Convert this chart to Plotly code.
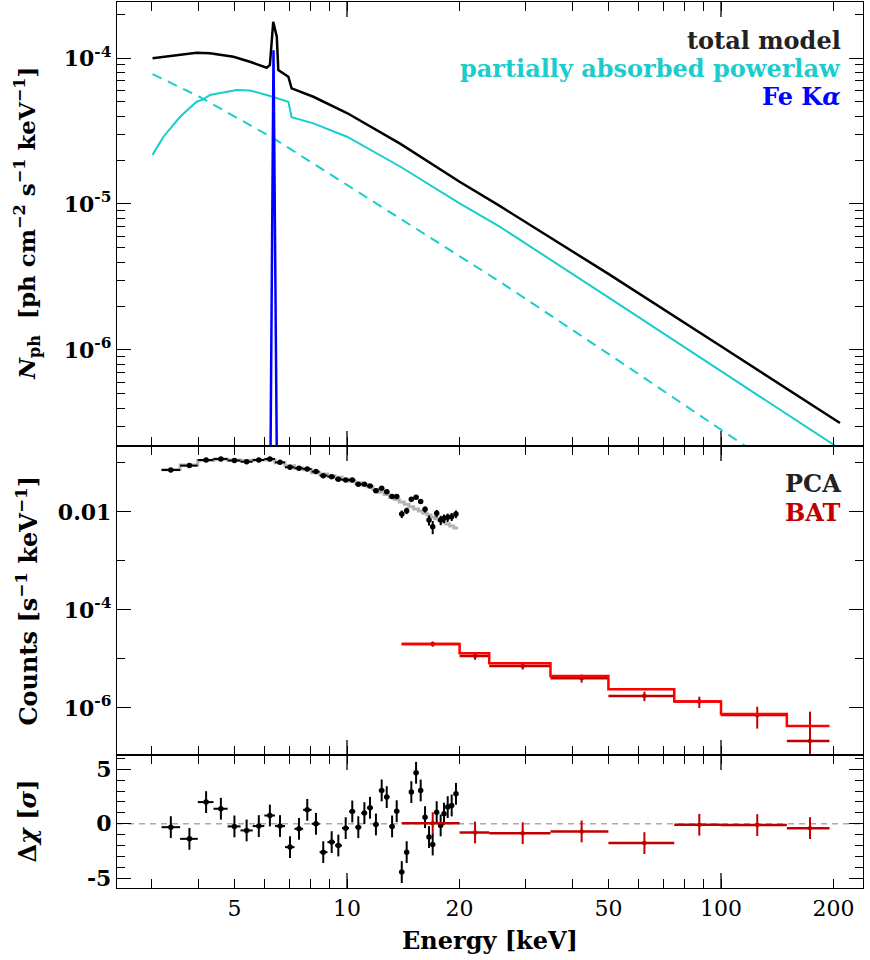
import numpy as np
import plotly.graph_objects as go

# ---------------- photon spectrum model components ----------------
tot_e = [3.02, 3.23, 3.96, 4.30, 4.97, 5.50, 6.10, 6.22, 6.35, 6.49, 6.55, 6.97, 7.11,
         8.13, 10.0, 13.9, 20.0, 25.6, 50.0, 100.0, 208.0]
tot_f = [9.95e-5, 1.02e-4, 1.087e-4, 1.077e-4, 1.02e-4, 9.43e-5, 8.58e-5, 8.96e-5, 1.77e-4,
         1.40e-4, 8.27e-5, 7.45e-5, 6.20e-5, 5.43e-5, 4.20e-5, 2.58e-5, 1.42e-5, 9.7e-6,
         3.32e-6, 1.06e-6, 3.16e-7]

pabs_e = [3.02, 3.16, 3.23, 3.58, 3.96, 4.13, 4.30, 5.07, 5.50, 6.10, 6.97, 7.11, 8.13,
          10.0, 13.9, 20.0, 25.6, 50.0, 100.0, 208.0]
pabs_f = [2.17e-5, 2.67e-5, 2.89e-5, 3.96e-5, 5.02e-5, 5.21e-5, 5.58e-5, 6.04e-5, 6.0e-5,
          5.58e-5, 5.02e-5, 3.93e-5, 3.57e-5, 2.89e-5, 1.80e-5, 1.01e-5, 7.0e-6, 2.29e-6,
          7.13e-7, 2.1e-7]

unabs_e = [3.02, 4.04, 6.34, 10.0, 25.7, 50.0, 100.0, 116.0, 150.0]
unabs_f = [7.77e-5, 5.41e-5, 2.83e-5, 1.35e-5, 2.92e-6, 9.4e-7, 2.83e-7, 2.2e-7, 1.41e-7]

fek_e = [6.15, 6.36, 6.60]
fek_f = [1e-9, 1.13e-4, 1e-9]

# ---------------- PCA counts spectrum ----------------
pca_e = [3.38, 3.79, 4.20, 4.60, 5.00, 5.39, 5.81, 6.22, 6.62, 7.04, 7.44, 7.83, 8.26, 8.64,
         9.10, 9.48, 9.92, 10.33, 10.72, 11.13, 11.52, 11.95, 12.38, 12.77, 13.20, 13.58,
         14.01, 14.44, 14.86, 15.30, 15.74, 16.17, 16.57, 16.95, 17.37, 17.80, 18.17, 18.59,
         19.05, 19.56]
pca_cts = [0.0720, 0.0883, 0.115, 0.121, 0.112, 0.106, 0.115, 0.121, 0.103, 0.0817, 0.0778,
           0.0755, 0.0666, 0.0551, 0.0526, 0.0464, 0.0450, 0.0450, 0.0367, 0.0367, 0.0340,
           0.0272, 0.0304, 0.0260, 0.0206, 0.0206, 0.00910, 0.01064, 0.0181, 0.0199, 0.0163,
           0.01135, 0.00687, 0.00502, 0.0094, 0.00687, 0.00743, 0.00778, 0.00803, 0.00910]
pca_err = [0.0025, 0.0025, 0.0025, 0.0025, 0.0025, 0.0025, 0.0025, 0.0025, 0.0025, 0.0022,
           0.0020, 0.0020, 0.0019, 0.0018, 0.0017, 0.0017, 0.0016, 0.0016, 0.0016, 0.0016,
           0.0016, 0.0016, 0.0016, 0.0016, 0.0016, 0.0016, 0.0016, 0.0016, 0.0017, 0.0018,
           0.0017, 0.0016, 0.0016, 0.0015, 0.0016, 0.0015, 0.0015, 0.0015, 0.0015, 0.0016]
pca_mod = [0.0730, 0.0910, 0.112, 0.119, 0.115, 0.112, 0.115, 0.115, 0.101, 0.0880, 0.0790,
           0.0730, 0.0635, 0.0597, 0.0551, 0.0509, 0.0464, 0.0423, 0.0397, 0.0361, 0.0329,
           0.0286, 0.0252, 0.0226, 0.0199, 0.0179, 0.0160, 0.0143, 0.0128, 0.0115, 0.0105,
           0.0094, 0.0087, 0.0079, 0.0073, 0.0067, 0.0062, 0.0057, 0.0052, 0.0047]
pca_res = [-0.31, -1.38, 1.99, 1.38, -0.24, -0.61, -0.21, 0.76, -0.21, -2.14, -0.46, 1.28,
           0.00, -2.60, -1.68, -1.99, -0.40, 1.13, -0.31, 0.98, 1.47, -0.06, 3.06, 2.45,
           -0.24, 1.16, -4.43, -2.60, 2.91, 4.68, 3.06, 0.61, -1.22, -1.90, 1.07, -0.15,
           0.92, 1.53, 1.68, 2.75]

# ---------------- BAT counts spectrum ----------------
bat_lo = [14, 20, 24, 35, 50, 75, 100, 150]
bat_hi = [20, 24, 35, 50, 75, 100, 150, 195]
bat_e = [16.95, 22.0, 29.5, 42.4, 62.4, 87.5, 125.0, 173.0]
bat_cts = [2.02e-5, 1.15e-5, 7.19e-6, 4.04e-6, 1.76e-6, 1.35e-6, 7.19e-7, 2.12e-7]
bat_err = [2.4e-6, 1.9e-6, 1.1e-6, 7.5e-7, 3.8e-7, 3.5e-7, 3.4e-7, 6.3e-7]
bat_mod = [2.02e-5, 1.31e-5, 8.16e-6, 4.50e-6, 2.41e-6, 1.35e-6, 7.55e-7, 4.30e-7]
bat_res = [0.06, -0.80, -0.86, -0.70, -1.77, -0.09, -0.12, -0.40]

# ---------------- styling ----------------
FONT = "DejaVu Serif"
BLACK = "#000000"
CYAN = "#1ACCCC"
BLUE = "#0000FF"
GRAY = "#B4B4B4"
RED = "#FF0000"
DRED = "#C00000"
LW = 1.3

# PCA channel boundaries from neighbouring channel centres
pe = np.array(pca_e)
mids = np.sqrt(pe[:-1] * pe[1:])
p_lo = np.concatenate([[pe[0] ** 2 / mids[0]], mids])
p_hi = np.concatenate([mids, [pe[-1] ** 2 / mids[-1]]])
p_minus = pe - p_lo
p_plus = p_hi - pe

be = np.array(bat_e)
b_minus = be - np.array(bat_lo)
b_plus = np.array(bat_hi) - be
b_err = np.array(bat_err)
b_err_minus = np.minimum(b_err, np.array(bat_cts) * 0.99)

fig = go.Figure()

# top panel: model components
fig.add_trace(go.Scatter(x=unabs_e, y=unabs_f, mode="lines",
                         line=dict(color=CYAN, width=2, dash="10px,7px"), xaxis="x", yaxis="y"))
fig.add_trace(go.Scatter(x=pabs_e, y=pabs_f, mode="lines",
                         line=dict(color=CYAN, width=2), xaxis="x", yaxis="y"))
fig.add_trace(go.Scatter(x=tot_e, y=tot_f, mode="lines",
                         line=dict(color=BLACK, width=2.5), xaxis="x", yaxis="y"))
fig.add_trace(go.Scatter(x=fek_e, y=fek_f, mode="lines",
                         line=dict(color=BLUE, width=2.5), xaxis="x", yaxis="y"))

# middle panel: counts spectra
fig.add_trace(go.Scatter(x=list(p_lo) + [p_hi[-1]], y=pca_mod + [pca_mod[-1]], mode="lines",
                         line=dict(color=GRAY, width=3, shape="hv"), xaxis="x2", yaxis="y2"))
fig.add_trace(go.Scatter(x=pca_e, y=pca_cts, mode="markers",
                         marker=dict(color=BLACK, size=5.5),
                         error_y=dict(type="data", array=pca_err, color=BLACK, thickness=2, width=0),
                         error_x=dict(type="data", array=p_plus, arrayminus=p_minus, color=BLACK,
                                      thickness=2, width=0),
                         xaxis="x2", yaxis="y2"))
fig.add_trace(go.Scatter(x=bat_e, y=bat_cts, mode="markers",
                         marker=dict(color=DRED, size=4.5),
                         error_y=dict(type="data", array=bat_err, arrayminus=b_err_minus,
                                      color=DRED, thickness=2, width=0),
                         error_x=dict(type="data", array=b_plus, arrayminus=b_minus, color=DRED,
                                      thickness=2.5, width=0),
                         xaxis="x2", yaxis="y2"))
fig.add_trace(go.Scatter(x=bat_lo + [bat_hi[-1]], y=bat_mod + [bat_mod[-1]], mode="lines",
                         line=dict(color=RED, width=2.5, shape="hv"), xaxis="x2", yaxis="y2"))

# bottom panel: residuals
fig.add_trace(go.Scatter(x=pca_e, y=pca_res, mode="markers",
                         marker=dict(color=BLACK, size=5.5),
                         error_y=dict(type="constant", value=1.0, color=BLACK, thickness=2, width=0),
                         error_x=dict(type="data", array=p_plus, arrayminus=p_minus, color=BLACK,
                                      thickness=2, width=0),
                         xaxis="x3", yaxis="y3"))
fig.add_trace(go.Scatter(x=bat_e, y=bat_res, mode="markers",
                         marker=dict(color=DRED, size=4.5),
                         error_y=dict(type="constant", value=1.0, color=DRED, thickness=2, width=0),
                         error_x=dict(type="data", array=b_plus, arrayminus=b_minus, color=DRED,
                                      thickness=2.5, width=0),
                         xaxis="x3", yaxis="y3"))

ytickfont = dict(family=FONT, size=22, color=BLACK)
xtickfont = dict(family=FONT, size=22, color=BLACK)

x_major = [5, 10, 20, 50, 100, 200]
x_minor = [3, 4, 6, 7, 8, 9, 30, 40, 60, 70, 80, 90]
x_decades = [10, 100]
xrange = [0.385, 2.3797]

def xaxis(anchor, labels):
    return dict(type="log", range=xrange, anchor=anchor, domain=[0, 1],
                tickmode="array", tickvals=x_major, ticktext=[str(v) for v in x_major],
                showticklabels=labels, ticks="inside", ticklen=9, tickwidth=LW,
                tickcolor=BLACK, showline=True, linecolor=BLACK, linewidth=LW,
                mirror="ticks", showgrid=False, zeroline=False, tickfont=xtickfont,
                minor=dict(tickmode="array", tickvals=x_minor, ticks="inside", ticklen=9,
                           tickwidth=LW, tickcolor=BLACK, showgrid=False))

top_minor = [m * 10.0 ** d for d in (-7, -6, -5, -4) for m in range(2, 10)]

D_BOT = [0.0, 0.1501]
D_MID = [0.1501, 0.4989]
D_TOP = [0.4989, 1.0]

def sup(base, exp):
    return f"<b>{base}<sup>{exp}</sup></b>"

fig.update_layout(
    width=870, height=960,
    margin=dict(l=117, r=7, t=2, b=72),
    paper_bgcolor="white", plot_bgcolor="white",
    showlegend=False,
    font=dict(family=FONT, color=BLACK),
    xaxis=xaxis("y", False),
    xaxis2=xaxis("y2", False),
    xaxis3=xaxis("y3", True),
    yaxis=dict(type="log", range=[-6.658, -3.616], domain=D_TOP, anchor="x",
               tickmode="array", tickvals=[1e-6, 1e-5, 1e-4],
               ticktext=[sup("10", "-6"), sup("10", "-5"), sup("10", "-4")],
               ticks="inside", ticklen=14, tickwidth=LW, tickcolor=BLACK,
               showline=True, linecolor=BLACK, linewidth=LW, mirror="ticks",
               showgrid=False, zeroline=False, tickfont=ytickfont,
               minor=dict(tickmode="array", tickvals=top_minor, ticks="inside", ticklen=8,
                          tickwidth=LW, tickcolor=BLACK, showgrid=False)),
    yaxis2=dict(type="log", range=[-6.96, -0.653], domain=D_MID, anchor="x2",
                tickmode="array", tickvals=[1e-6, 1e-4, 1e-2],
                ticktext=[sup("10", "-6"), sup("10", "-4"), "<b>0.01</b>"],
                ticks="inside", ticklen=14, tickwidth=LW, tickcolor=BLACK,
                showline=True, linecolor=BLACK, linewidth=LW, mirror="ticks",
                showgrid=False, zeroline=False, tickfont=ytickfont,
                minor=dict(tickmode="array", tickvals=[1e-5, 1e-3, 1e-1], ticks="inside",
                           ticklen=8, tickwidth=LW, tickcolor=BLACK, showgrid=False)),
    yaxis3=dict(range=[-5.89, 6.31], domain=D_BOT, anchor="x3",
                tickmode="array", tickvals=[-5, 0, 5], ticktext=["<b>-5</b>", "<b>0</b>", "<b>5</b>"],
                ticks="inside", ticklen=14, tickwidth=LW, tickcolor=BLACK,
                showline=True, linecolor=BLACK, linewidth=LW, mirror="ticks",
                showgrid=False, zeroline=False, tickfont=ytickfont,
                minor=dict(tickmode="array", tickvals=[-4, -3, -2, -1, 1, 2, 3, 4, 6],
                           ticks="inside", ticklen=8, tickwidth=LW, tickcolor=BLACK,
                           showgrid=False)),
)

# longer ticks at the decade marks on every panel edge
panel_px = {"y": 444, "y2": 309, "y3": 133}
for yref, h in panel_px.items():
    frac = 15.0 / h
    for v in x_decades:
        for y0, y1 in ((0, frac), (1 - frac, 1)):
            fig.add_shape(type="line", xref="x", yref=f"{yref} domain", x0=v, x1=v, y0=y0, y1=y1,
                          line=dict(color=BLACK, width=LW))

# zero line of the residual panel
fig.add_shape(type="line", xref="paper", yref="y3", x0=0, x1=1, y0=0, y1=0,
              line=dict(color="#AAAAAA", width=1.5, dash="6px,5px"), layer="below")

ann = [
    dict(text="<b>total model</b>", y=0.957, color="#222222"),
    dict(text="<b>partially absorbed powerlaw</b>", y=0.9255, color=CYAN),
    dict(text="<b>Fe K<i>α</i></b>", y=0.8928, color=BLUE),
    dict(text="<b>PCA</b>", y=0.456, color="#222222"),
    dict(text="<b>BAT</b>", y=0.4233, color=DRED),
]
for a in ann:
    fig.add_annotation(text=a["text"], x=0.9732, y=a["y"], xref="paper", yref="paper",
                       xanchor="right", yanchor="middle", showarrow=False,
                       font=dict(family=FONT, size=24, color=a["color"]))

ytitles = [
    ("<b><i>N</i><sub>ph</sub>  [ph cm<sup>−2</sup> s<sup>−1</sup> keV<sup>−1</sup>]</b>", sum(D_TOP) / 2, 23),
    ("<b>Counts [s<sup>−1</sup> keV<sup>−1</sup>]</b>", sum(D_MID) / 2, 24),
    ("<b>Δ<i>χ</i> [<i>σ</i>]</b>", sum(D_BOT) / 2, 24),
]
for txt, yc, sz in ytitles:
    fig.add_annotation(text=txt, x=-0.1206, y=yc, xref="paper", yref="paper", textangle=-90,
                       xanchor="center", yanchor="middle", showarrow=False,
                       font=dict(family=FONT, size=sz, color=BLACK))

fig.add_annotation(text="<b>Energy [keV]</b>", x=0.5, y=-0.0598, xref="paper", yref="paper",
                   xanchor="center", yanchor="middle", showarrow=False,
                   font=dict(family=FONT, size=24, color=BLACK))

fig.write_html("out.html")
